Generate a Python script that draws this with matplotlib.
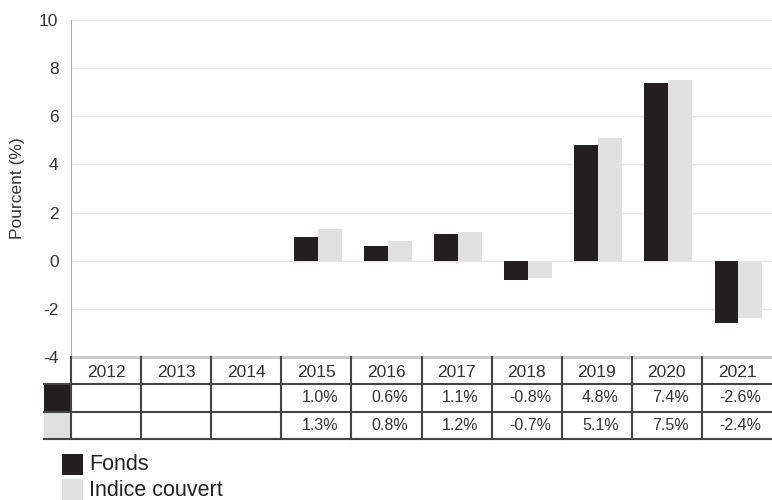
import numpy as np
import matplotlib.pyplot as plt
from matplotlib.patches import Rectangle

plt.rcParams['font.family'] = ['Liberation Sans', 'DejaVu Sans']
plt.rcParams['axes.unicode_minus'] = False

years = ['2012', '2013', '2014', '2015', '2016', '2017', '2018', '2019', '2020', '2021']
fonds = [np.nan, np.nan, np.nan, 1.0, 0.6, 1.1, -0.8, 4.8, 7.4, -2.6]
indice = [np.nan, np.nan, np.nan, 1.3, 0.8, 1.2, -0.7, 5.1, 7.5, -2.4]
series_names = ['Fonds', 'Indice couvert']
colors = ['#231f20', '#e0e0e0']

txt = '#333333'
line_c = '#444444'

fig = plt.figure(figsize=(7.72, 5.0), dpi=100)
W, H = 772, 500

def box(x0, y0, x1, y1):
    return [x0 / W, 1 - y1 / H, (x1 - x0) / W, (y1 - y0) / H]

ax = fig.add_axes(box(71, 20, 772, 357))
x = np.arange(len(years))
bw = 0.34
ax.bar(x - bw / 2 + 0.02, fonds, bw, color=colors[0], zorder=3)
ax.bar(x + bw / 2 + 0.02, indice, bw, color=colors[1], zorder=3)
ax.set_xlim(-0.5, len(years) - 0.5)
ax.set_ylim(-4, 10)
ax.set_yticks(range(-4, 11, 2))
ax.set_xticks([])
ax.grid(axis='y', color='#e6e6e6', linewidth=1, zorder=0)
for s in ['top', 'right', 'bottom']:
    ax.spines[s].set_visible(False)
ax.spines['left'].set_color('#aaaaaa')
ax.tick_params(axis='y', length=0, labelsize=12.5, labelcolor=txt, pad=9)
ax.set_ylabel('Pourcent (%)', fontsize=12.5, color=txt, labelpad=10)

# data table below the chart
tab = fig.add_axes(box(71, 357, 772, 439))
tab.set_xlim(-0.5, len(years) - 0.5)
tab.set_ylim(3, 0)
tab.axis('off')
rows = [fonds, indice]
for i, yr in enumerate(years):
    tab.text(i, 0.55, yr, ha='center', va='center', fontsize=12.5, color=txt)
    for r, vals in enumerate(rows):
        if not np.isnan(vals[i]):
            tab.text(i + 0.05, r + 1.5, f'{vals[i]:.1f}%', ha='center', va='center',
                     fontsize=11.5, color=txt)
tab.axhline(0, color='#c8c8c8', linewidth=2, clip_on=False)
for yy in [1, 2, 3]:
    tab.plot([-0.5 - 27 / 70, len(years) - 0.5], [yy, yy], color=line_c,
             linewidth=1.5, clip_on=False)
for xx in np.arange(-0.5, len(years) - 1, 1.0):
    tab.plot([xx, xx], [0, 3], color=line_c, linewidth=1.5, clip_on=False)
for r, c in enumerate(colors):
    tab.add_patch(Rectangle((-0.5 - 27 / 70, r + 1), 27 / 70, 1, facecolor=c,
                            edgecolor='none', clip_on=False))

# legend
for k, (name, c) in enumerate(zip(series_names, colors)):
    y0 = 454 + k * 25
    fig.patches.append(Rectangle((62 / W, 1 - (y0 + 21) / H), 21 / W, 21 / H,
                                 facecolor=c, edgecolor='none',
                                 transform=fig.transFigure))
    fig.text(89 / W, 1 - (y0 + 11) / H, name, ha='left', va='center',
             fontsize=15.5, color='#222222')

fig.savefig('out.png', dpi=100)
